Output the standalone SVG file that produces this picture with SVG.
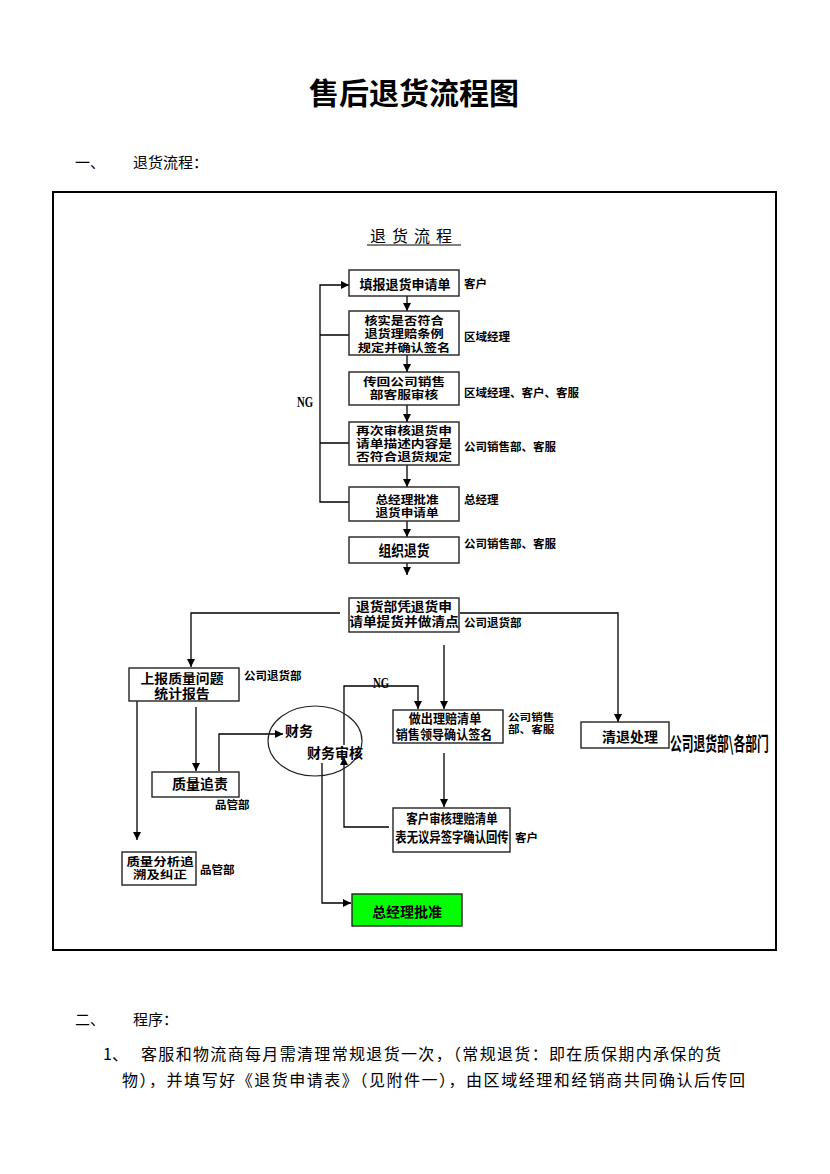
<svg xmlns="http://www.w3.org/2000/svg" width="830" height="1174" viewBox="0 0 830 1174">
<defs>
<style>
text{font-family:"Noto Sans CJK SC","Liberation Sans",sans-serif;fill:#000;dominant-baseline:central}
.b{font-weight:bold}
.bx{font-weight:bold;text-anchor:middle}
.lb{font-weight:bold}
.box{fill:#fff;stroke:#222;stroke-width:1.4}
.ln{fill:none;stroke:#000;stroke-width:1.3}
.body{font-size:16px}
.ng{font-family:"Liberation Serif",serif;font-weight:bold;font-size:15px;text-anchor:middle}
</style>
<marker id="ar" viewBox="0 0 10 10" refX="10" refY="5" markerWidth="8" markerHeight="8" markerUnits="userSpaceOnUse" orient="auto">
<path d="M0,0 L10,5 L0,10 z" fill="#000"/>
</marker>
</defs>
<rect width="830" height="1174" fill="#fff"/>

<g id="header">
<text x="414" y="91" class="b" font-size="30" text-anchor="middle">售后退货流程图</text>
<text x="75" y="161" font-size="15">一、</text>
<text x="133" y="161" font-size="15">退货流程：</text>
</g>

<rect id="frame" x="53" y="192" width="723" height="758" fill="none" stroke="#000" stroke-width="2"/>

<g id="chart-title">
<text x="414" y="235" font-size="16" text-anchor="middle" letter-spacing="6">退货流程</text>
<line x1="367" y1="245" x2="461" y2="245" stroke="#000" stroke-width="1"/>
</g>

<g id="connectors">
<line class="ln" x1="407" y1="296" x2="407" y2="311" marker-end="url(#ar)"/>
<line class="ln" x1="407" y1="355" x2="407" y2="372" marker-end="url(#ar)"/>
<line class="ln" x1="407" y1="405" x2="407" y2="422" marker-end="url(#ar)"/>
<line class="ln" x1="407" y1="465" x2="407" y2="487" marker-end="url(#ar)"/>
<line class="ln" x1="407" y1="521" x2="407" y2="537" marker-end="url(#ar)"/>
<line class="ln" x1="407" y1="563" x2="407" y2="575" marker-end="url(#ar)"/>
<path class="ln" d="M349,335 H320 M349,443 H320 M349,502 H320 V285 H349" marker-end="url(#ar)"/>
<path class="ln" d="M340,613 H191 V667" marker-end="url(#ar)"/>
<path class="ln" d="M460,613 H618 V722" marker-end="url(#ar)"/>
<line class="ln" x1="444" y1="645" x2="444" y2="709" marker-end="url(#ar)"/>
<path class="ln" d="M344,745 V686 H418 V709" marker-end="url(#ar)"/>
<line class="ln" x1="137" y1="701" x2="137" y2="840" marker-end="url(#ar)"/>
<line class="ln" x1="196" y1="707" x2="196" y2="771" marker-end="url(#ar)"/>
<path class="ln" d="M219,771 V734 H283" marker-end="url(#ar)"/>
<line class="ln" x1="444" y1="753" x2="444" y2="807" marker-end="url(#ar)"/>
<path class="ln" d="M389,827 H344 V757" marker-end="url(#ar)"/>
<path class="ln" d="M322,763 V903 H351" marker-end="url(#ar)"/>
</g>

<g id="ng-left"><text class="ng" transform="translate(305,402) scale(0.72,1)">NG</text></g>
<g id="ng-right"><text class="ng" transform="translate(381,683) scale(0.72,1)">NG</text></g>

<g id="n1">
<rect class="box" x="349" y="270" width="110" height="26"/>
<text class="bx" x="405" y="283" font-size="13">填报退货申请单</text>
<text class="lb" x="464" y="283" font-size="11.5">客户</text>
</g>
<g id="n2">
<rect class="box" x="349" y="311" width="110" height="44"/>
<text class="bx" font-size="11.5" transform="translate(404,320) scale(1.15,1)"><tspan x="0" y="0">核实是否符合</tspan><tspan x="0" y="13.5">退货理赔条例</tspan><tspan x="0" y="27">规定并确认签名</tspan></text>
<text class="lb" x="464" y="336" font-size="11.5">区域经理</text>
</g>
<g id="n3">
<rect class="box" x="349" y="372" width="110" height="33"/>
<text class="bx" font-size="10.8" transform="translate(404,382) scale(1.27,1)"><tspan x="0" y="0">传回公司销售</tspan><tspan x="0" y="12.6">部客服审核</tspan></text>
<text class="lb" x="464" y="392" font-size="11.5">区域经理、客户、客服</text>
</g>
<g id="n4">
<rect class="box" x="349" y="422" width="110" height="43"/>
<text class="bx" font-size="10.8" transform="translate(404,431) scale(1.27,1)"><tspan x="0" y="0">再次审核退货申</tspan><tspan x="0" y="12.6">请单描述内容是</tspan><tspan x="0" y="25.2">否符合退货规定</tspan></text>
<text class="lb" x="464" y="446" font-size="11.5">公司销售部、客服</text>
</g>
<g id="n5">
<rect class="box" x="349" y="487" width="110" height="34"/>
<text class="bx" font-size="11" transform="translate(407,498) scale(1.15,1)"><tspan x="0" y="0">总经理批准</tspan><tspan x="0" y="13">退货申请单</tspan></text>
<text class="lb" x="464" y="499" font-size="11.5">总经理</text>
</g>
<g id="n6">
<rect class="box" x="349" y="537" width="110" height="26"/>
<text class="bx" font-size="15" transform="translate(404,550) scale(0.85,1)">组织退货</text>
<text class="lb" x="464" y="543" font-size="11.5">公司销售部、客服</text>
</g>
<g id="n7">
<rect class="box" x="349" y="598" width="110" height="34"/>
<text class="bx" font-size="12.8" transform="translate(404,605) scale(1.07,1)"><tspan x="0" y="0">退货部凭退货申</tspan><tspan x="0" y="15">请单提货并做清点</tspan></text>
<text class="lb" x="464" y="622" font-size="11.5">公司退货部</text>
</g>
<g id="n8">
<rect class="box" x="129" y="668" width="110" height="33"/>
<text class="bx" font-size="12.8" transform="translate(182,677) scale(1.08,1)"><tspan x="0" y="0">上报质量问题</tspan><tspan x="0" y="15">统计报告</tspan></text>
<text class="lb" x="244" y="675" font-size="11.5">公司退货部</text>
</g>
<g id="n9">
<ellipse cx="315" cy="741" rx="47" ry="35" fill="none" stroke="#222" stroke-width="1.2"/>
<text class="b" x="285" y="730" font-size="14">财务</text>
<text class="b" x="307" y="752" font-size="14">财务审核</text>
</g>
<g id="n10">
<rect class="box" x="393" y="710" width="110" height="33"/>
<text class="bx" font-size="13" transform="translate(445,717) scale(0.93,1)"><tspan x="0" y="0">做出理赔清单</tspan><tspan x="-1" y="16">销售领导确认签名</tspan></text>
<text class="lb" font-size="10" transform="translate(508,716) scale(1.16,1)"><tspan x="0" y="0">公司销售</tspan><tspan x="0" y="12">部、客服</tspan></text>
</g>
<g id="n11">
<rect class="box" x="581" y="722" width="88" height="26"/>
<text class="bx" x="630" y="736" font-size="14">清退处理</text>
<text class="b" font-size="19" transform="translate(670,743) scale(0.62,1)">公司退货部\各部门</text>
</g>
<g id="n12">
<rect class="box" x="152" y="772" width="87" height="25"/>
<text class="bx" x="200" y="783" font-size="14">质量追责</text>
<text class="lb" x="215" y="804" font-size="11.5">品管部</text>
</g>
<g id="n13">
<rect class="box" x="393" y="808" width="117" height="44"/>
<text class="bx" font-size="13" transform="translate(452,818) scale(0.88,1)">客户审核理赔清单</text>
<text class="bx" font-size="13.5" transform="translate(452,837) scale(0.84,1)">表无议异签字确认回传</text>
<text class="lb" x="515" y="837" font-size="11.5">客户</text>
</g>
<g id="n14">
<rect class="box" x="122" y="852" width="74" height="33"/>
<text class="bx" font-size="11.5" transform="translate(160,860) scale(1.17,1)"><tspan x="0" y="0">质量分析追</tspan><tspan x="0" y="13.5">溯及纠正</tspan></text>
<text class="lb" x="200" y="869" font-size="11.5">品管部</text>
</g>
<g id="n15">
<rect x="352" y="894" width="110" height="32" fill="#00ff00" stroke="#222" stroke-width="1.4"/>
<text class="bx" x="407" y="911" font-size="14">总经理批准</text>
</g>

<g id="body">
<text x="75" y="1018" font-size="15">二、</text>
<text x="133" y="1018" font-size="15">程序：</text>
<text class="body" x="103" y="1053">1、</text>
<text class="body" x="141" y="1053" textLength="580" lengthAdjust="spacing">客服和物流商每月需清理常规退货一次，（常规退货：即在质保期内承保的货</text>
<text class="body" x="122" y="1079" textLength="623" lengthAdjust="spacing">物），并填写好《退货申请表》（见附件一），由区域经理和经销商共同确认后传回</text>
</g>
</svg>
